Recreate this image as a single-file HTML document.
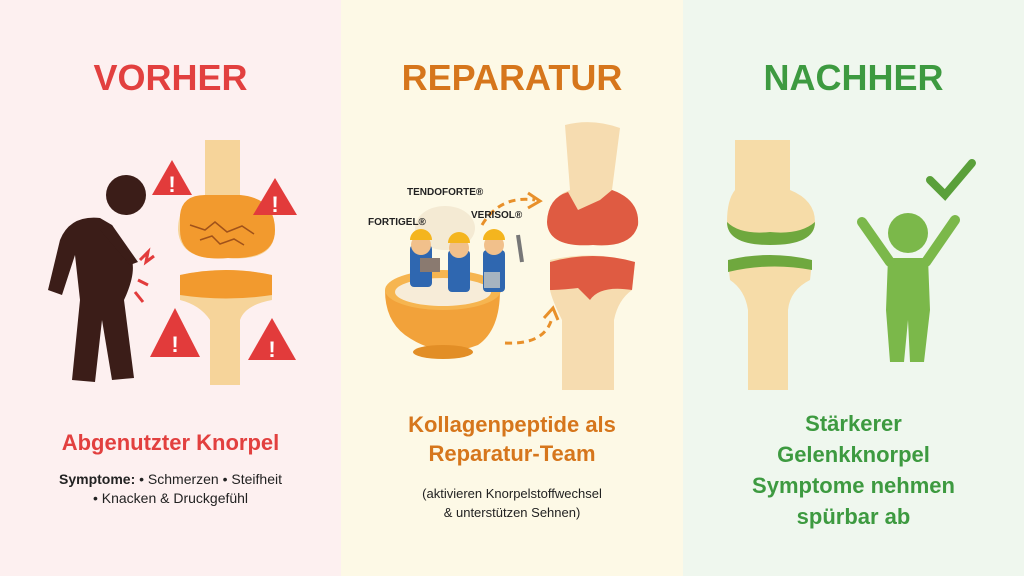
<!DOCTYPE html>
<html><head><meta charset="utf-8"><style>
html,body{margin:0;padding:0;width:1024px;height:576px;overflow:hidden;font-family:"Liberation Sans",sans-serif}
.t{position:absolute;text-align:center;font-weight:bold}
</style></head><body>
<div style="position:relative;width:1024px;height:576px">
<div style="position:absolute;left:0;top:0;width:341px;height:576px;background:#fdf0f0"></div>
<div style="position:absolute;left:341px;top:0;width:342px;height:576px;background:#fdf9e6"></div>
<div style="position:absolute;left:683px;top:0;width:341px;height:576px;background:#eff7ee"></div>
<svg width="1024" height="576" style="position:absolute;left:0;top:0">
<!-- LEFT -->
<g>
<path d="M205 140 L240 140 L240 195 Q275 200 275 230 Q275 262 228 258 Q180 262 178 230 Q178 200 205 195 Z" fill="#f6d49a"/>
<path d="M180 215 Q182 195 205 195 L240 195 Q275 198 275 230 Q275 260 228 258 Q180 262 180 230 Z" fill="#f29a2e"/>
<path d="M190 225 l15 5 l10 -8 l12 10 l15 -6 l12 8 M200 240 l12 -4 l8 8 l14 -5 l10 6" stroke="#a0521a" fill="none" stroke-width="1.5"/>
<path d="M180 275 Q226 265 272 275 L272 300 Q245 305 240 320 L240 385 L210 385 L210 320 Q200 305 180 300 Z" fill="#f6d49a"/>
<path d="M180 275 Q226 265 272 275 L272 295 Q226 302 180 295 Z" fill="#f29a2e"/>
<!-- person -->
<circle cx="126" cy="195" r="20" fill="#3b1d18"/>
<path d="M100 218 Q70 215 60 240 L48 290 L62 295 L75 255 L80 300 L72 380 L95 382 L102 320 L112 380 L134 378 L124 300 Q138 270 130 255 L112 225 Z" fill="#3b1d18"/>
<path d="M100 230 L130 265 L138 262 L112 225 Z" fill="#3b1d18"/>
<path d="M140 260 l8 -8 l-2 10 l8 -6 M138 280 l10 5 M135 292 l8 10" stroke="#e23b3b" stroke-width="3" fill="none"/>
<g fill="#e23b3b"><path d="M172 160 L192 195 L152 195 Z"/><path d="M275 178 L297 215 L253 215 Z"/><path d="M175 308 L200 357 L150 357 Z"/><path d="M272 318 L296 360 L248 360 Z"/></g>
<g fill="#fff" font-size="22" font-weight="bold" text-anchor="middle"><text x="172" y="192">!</text><text x="275" y="212">!</text><text x="175" y="352">!</text><text x="272" y="357">!</text></g>
</g>
<!-- MIDDLE -->
<g>
<path d="M565 125 Q592 118 620 128 L612 190 Q640 200 638 225 Q632 248 593 245 Q548 248 547 222 Q548 198 570 190 Z" fill="#f6dcb0"/>
<path d="M547 222 Q548 198 568 192 L578 210 L600 200 L612 190 Q640 200 638 225 Q632 248 593 245 Q548 248 547 222 Z" fill="#df5b42"/>
<path d="M550 260 Q593 250 635 262 L632 290 Q618 300 614 320 L614 390 L562 390 L562 320 Q552 300 550 290 Z" fill="#f6dcb0"/>
<path d="M550 262 Q593 250 635 262 L632 290 Q600 285 590 300 L578 288 Q560 290 550 290 Z" fill="#df5b42"/>
<ellipse cx="445" cy="228" rx="30" ry="22" fill="#f4ead3"/>
<path d="M385 290 Q385 320 405 335 Q440 360 478 345 Q500 330 500 290 Z" fill="#f2a23a"/>
<ellipse cx="443" cy="290" rx="58" ry="20" fill="#f6b550"/>
<ellipse cx="443" cy="292" rx="48" ry="14" fill="#f7ecd8"/>
<ellipse cx="443" cy="352" rx="30" ry="7" fill="#e28e26"/>
<g>
<rect x="410" y="245" width="22" height="42" rx="4" fill="#2f67b0"/><circle cx="421" cy="245" r="10" fill="#f1c08b"/><path d="M410 240 a11 11 0 0 1 22 0 Z" fill="#f4b51e"/>
<rect x="448" y="250" width="22" height="42" rx="4" fill="#2f67b0"/><circle cx="459" cy="248" r="10" fill="#f1c08b"/><path d="M448 243 a11 11 0 0 1 22 0 Z" fill="#f4b51e"/>
<rect x="483" y="250" width="22" height="42" rx="4" fill="#2f67b0"/><circle cx="494" cy="245" r="10" fill="#f1c08b"/><path d="M483 240 a11 11 0 0 1 22 0 Z" fill="#f4b51e"/>
<rect x="420" y="258" width="20" height="14" fill="#8a7a70"/><rect x="484" y="272" width="16" height="16" fill="#a7b4c0"/>
<path d="M518 235 L522 262" stroke="#777" stroke-width="4"/>
</g>
<g stroke="#e8902a" stroke-width="3" fill="none" stroke-dasharray="7 5"><path d="M482 225 Q500 195 535 200"/><path d="M505 343 Q545 345 552 318"/></g>
<path d="M528 193 L540 201 L528 208" stroke="#e8902a" stroke-width="3" fill="none"/>
<path d="M544 318 L553 308 L558 320" stroke="#e8902a" stroke-width="3" fill="none"/>
<g font-size="10" font-weight="bold" fill="#222"><text x="407" y="195">TENDOFORTE®</text><text x="368" y="225">FORTIGEL®</text><text x="471" y="218">VERISOL®</text></g>
</g>
<!-- RIGHT -->
<g>
<path d="M735 140 L790 140 L790 190 Q815 200 815 222 Q815 245 770 243 Q727 245 727 222 Q727 200 735 190 Z" fill="#f6dca8"/>
<path d="M727 222 Q740 235 770 232 Q800 235 815 222 Q815 245 770 245 Q727 245 727 222 Z" fill="#6fa83e"/>
<path d="M728 262 Q770 252 812 262 L810 280 Q790 290 788 310 L788 390 L748 390 L748 310 Q745 290 730 280 Z" fill="#f6dca8"/>
<path d="M728 260 Q770 250 812 260 L812 270 Q770 262 728 272 Z" fill="#6fa83e"/>
<circle cx="908" cy="233" r="20" fill="#7bb84a"/>
<path d="M888 258 L928 258 L930 310 L924 362 L910 362 L908 320 L904 362 L890 362 L886 310 Z" fill="#7bb84a"/>
<path d="M890 262 L862 222 M926 262 L955 220" stroke="#7bb84a" stroke-width="10" stroke-linecap="round"/>
<path d="M930 180 L945 195 L972 163" stroke="#5aa03a" stroke-width="8" fill="none" stroke-linecap="round"/>
</g>
</svg>
<div class="t" style="left:0;width:341px;top:57px;font-size:36px;color:#e2403f">VORHER</div>
<div class="t" style="left:341px;width:342px;top:57px;font-size:36px;color:#d6761c">REPARATUR</div>
<div class="t" style="left:683px;width:341px;top:57px;font-size:36px;color:#3d9a40">NACHHER</div>
<div class="t" style="left:0;width:341px;top:430px;font-size:22px;color:#e2403f">Abgenutzter Knorpel</div>
<div class="t" style="left:0;width:341px;top:470px;font-size:14px;color:#222;font-weight:normal;line-height:19px">
<b>Symptome:</b> • Schmerzen • Steifheit<br>• Knacken &amp; Druckgefühl</div>
<div class="t" style="left:341px;width:342px;top:410px;font-size:22px;color:#d6761c;line-height:29px">Kollagenpeptide als<br>Reparatur-Team</div>
<div class="t" style="left:341px;width:342px;top:484px;font-size:13px;color:#222;font-weight:normal;line-height:19px">(aktivieren Knorpelstoffwechsel<br>&amp; unterstützen Sehnen)</div>
<div class="t" style="left:683px;width:341px;top:408px;font-size:22px;color:#3d9a40;line-height:31px">Stärkerer<br>Gelenkknorpel<br>Symptome nehmen<br>spürbar ab</div>
</div>
</body></html>
